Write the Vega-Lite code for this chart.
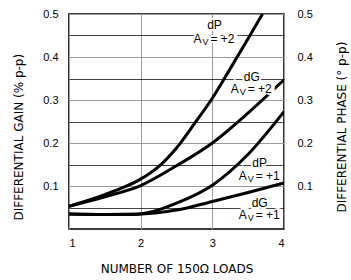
{
  "$schema": "https://vega.github.io/schema/vega-lite/v6.json",
  "width": 215,
  "height": 215,
  "padding": {"left": 69, "top": 14, "right": 67, "bottom": 51},
  "autosize": {"type": "none"},
  "background": "white",
  "config": {
    "view": {"stroke": "black", "strokeWidth": 1.6},
    "axis": {"labelFont": "Liberation Sans", "labelFontSize": 11, "labelColor": "black", "titleFont": "DejaVu Sans", "titleFontSize": 12, "titleFontWeight": "normal", "titleColor": "black", "ticks": false, "domain": false}
  },
  "datasets": {
    "curves": [
      {"curve": "dP2", "loads": 1.0, "value": 0.053},
      {"curve": "dP2", "loads": 1.5, "value": 0.08},
      {"curve": "dP2", "loads": 1.75, "value": 0.096},
      {"curve": "dP2", "loads": 2.0, "value": 0.116},
      {"curve": "dP2", "loads": 2.25, "value": 0.145},
      {"curve": "dP2", "loads": 2.5, "value": 0.1885},
      {"curve": "dP2", "loads": 2.75, "value": 0.245},
      {"curve": "dP2", "loads": 3.0, "value": 0.304},
      {"curve": "dP2", "loads": 3.25, "value": 0.373},
      {"curve": "dP2", "loads": 3.5, "value": 0.443},
      {"curve": "dP2", "loads": 3.7, "value": 0.5},
      {"curve": "dG2", "loads": 1.0, "value": 0.053},
      {"curve": "dG2", "loads": 1.5, "value": 0.075},
      {"curve": "dG2", "loads": 2.0, "value": 0.101},
      {"curve": "dG2", "loads": 2.5, "value": 0.147},
      {"curve": "dG2", "loads": 3.0, "value": 0.2},
      {"curve": "dG2", "loads": 3.5, "value": 0.27},
      {"curve": "dG2", "loads": 4.0, "value": 0.347},
      {"curve": "dP1", "loads": 1.0, "value": 0.035},
      {"curve": "dP1", "loads": 1.5, "value": 0.034},
      {"curve": "dP1", "loads": 1.9, "value": 0.034},
      {"curve": "dP1", "loads": 2.2, "value": 0.042},
      {"curve": "dP1", "loads": 2.5, "value": 0.06},
      {"curve": "dP1", "loads": 3.0, "value": 0.102},
      {"curve": "dP1", "loads": 3.5, "value": 0.174},
      {"curve": "dP1", "loads": 4.0, "value": 0.273},
      {"curve": "dG1", "loads": 1.0, "value": 0.035},
      {"curve": "dG1", "loads": 1.5, "value": 0.034},
      {"curve": "dG1", "loads": 2.0, "value": 0.035},
      {"curve": "dG1", "loads": 2.5, "value": 0.044},
      {"curve": "dG1", "loads": 3.0, "value": 0.064},
      {"curve": "dG1", "loads": 3.5, "value": 0.085},
      {"curve": "dG1", "loads": 4.0, "value": 0.107}
    ],
    "labels": [
      {"curve": "dP2", "loads": 3.03, "ny": 0.474, "ay": 0.441, "name": "dP", "gain": "= +2"},
      {"curve": "dG2", "loads": 3.55, "ny": 0.354, "ay": 0.325, "name": "dG", "gain": "= +2"},
      {"curve": "dP1", "loads": 3.66, "ny": 0.154, "ay": 0.123, "name": "dP", "gain": "= +1"},
      {"curve": "dG1", "loads": 3.66, "ny": 0.061, "ay": 0.032, "name": "dG", "gain": "= +1"}
    ]
  },
  "layer": [
    {
      "data": {"name": "curves"},
      "mark": {"type": "line", "color": "black", "strokeWidth": 3, "interpolate": "monotone", "clip": true},
      "encoding": {
        "x": {"field": "loads", "type": "quantitative", "scale": {"domain": [1, 4], "nice": false},
          "axis": {"values": [1, 2, 3, 4], "format": "d", "grid": true, "gridColor": "#999", "gridWidth": 1, "labelPadding": 8, "title": "NUMBER OF 150Ω LOADS", "titleY": 39, "titleBaseline": "middle"}},
        "y": {"field": "value", "type": "quantitative", "scale": {"domain": [0, 0.5], "nice": false, "zero": true},
          "axis": {"orient": "left", "values": [0.05, 0.1, 0.15, 0.2, 0.25, 0.3, 0.35, 0.4, 0.45, 0.5], "format": ".1f",
            "labelExpr": "round(datum.value*100) % 10 == 0 ? datum.label : ''",
            "grid": true,
            "gridColor": {"condition": {"test": "round(datum.value*100) % 10 == 0", "value": "#9a9a9a"}, "value": "#111"},
            "gridWidth": {"condition": {"test": "round(datum.value*100) % 10 == 0", "value": 1.1}, "value": 0.8},
            "labelPadding": 11,
            "title": "DIFFERENTIAL GAIN (% p-p)", "titleAngle": -90, "titleX": -51, "titleY": 206, "titleAlign": "left", "titleBaseline": "middle"}},
        "detail": {"field": "curve"}
      }
    },
    {
      "data": {"name": "labels"},
      "mark": {"type": "text", "font": "Liberation Sans", "fontSize": 12, "fill": "white", "stroke": "white", "strokeWidth": 4, "baseline": "middle"},
      "encoding": {
        "x": {"field": "loads", "type": "quantitative"},
        "y": {"field": "ny", "type": "quantitative", "axis": {"orient": "right", "values": [0.1, 0.2, 0.3, 0.4, 0.5], "format": ".1f", "grid": false, "labelPadding": 13,
          "title": "DIFFERENTIAL PHASE (° p-p)", "titleAngle": 270, "titleX": 57, "titleY": 198, "titleAlign": "left", "titleBaseline": "middle"}},
        "text": {"field": "name"}
      }
    },
    {
      "data": {"name": "labels"},
      "mark": {"type": "text", "font": "Liberation Sans", "fontSize": 12, "fill": "white", "stroke": "white", "strokeWidth": 4, "baseline": "middle", "align": "left", "dx": -21, "text": "AV = +0"},
      "encoding": {
        "x": {"field": "loads", "type": "quantitative"},
        "y": {"field": "ay", "type": "quantitative", "axis": null}
      }
    },
    {
      "data": {"name": "labels"},
      "mark": {"type": "text", "font": "Liberation Sans", "fontSize": 12, "fill": "black", "baseline": "middle"},
      "encoding": {
        "x": {"field": "loads", "type": "quantitative"},
        "y": {"field": "ny", "type": "quantitative", "axis": null},
        "text": {"field": "name"}
      }
    },
    {
      "data": {"name": "labels"},
      "mark": {"type": "text", "font": "Liberation Sans", "fontSize": 12, "fill": "black", "baseline": "middle", "align": "left", "dx": -4},
      "encoding": {
        "x": {"field": "loads", "type": "quantitative"},
        "y": {"field": "ay", "type": "quantitative", "axis": null},
        "text": {"field": "gain"}
      }
    },
    {
      "data": {"name": "labels"},
      "mark": {"type": "text", "font": "Liberation Sans", "fontSize": 12, "fill": "black", "baseline": "middle", "align": "left", "dx": -21, "text": "A"},
      "encoding": {
        "x": {"field": "loads", "type": "quantitative"},
        "y": {"field": "ay", "type": "quantitative", "axis": null}
      }
    },
    {
      "data": {"name": "labels"},
      "mark": {"type": "text", "font": "Liberation Sans", "fontSize": 9, "fill": "black", "baseline": "middle", "align": "left", "dx": -12, "dy": 3, "text": "V"},
      "encoding": {
        "x": {"field": "loads", "type": "quantitative"},
        "y": {"field": "ay", "type": "quantitative", "axis": null}
      }
    }
  ],
  "resolve": {"axis": {"y": "independent"}}
}
